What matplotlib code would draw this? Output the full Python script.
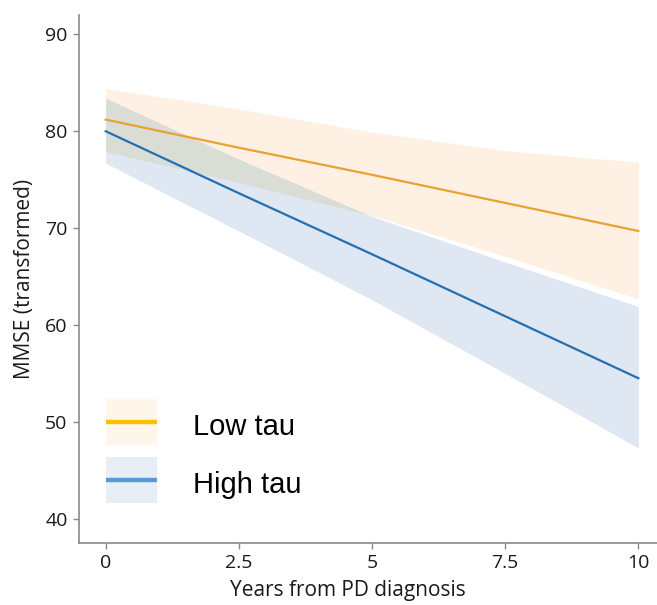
import matplotlib
matplotlib.use("Agg")
import numpy as np
import matplotlib.pyplot as plt
from matplotlib.patches import Rectangle
from matplotlib.lines import Line2D

years = [0, 2.5, 5, 7.5, 10]
low_fit = [81.2, 78.3, 75.5, 72.6, 69.7]
low_upper = [84.4, 82.3, 79.9, 78.0, 76.8]
low_lower = [77.9, 74.7, 71.3, 67.1, 62.7]
high_fit = [80.0, 73.6, 67.3, 60.9, 54.5]
high_upper = [83.4, 77.1, 71.2, 66.5, 61.9]
high_lower = [76.7, 69.7, 62.6, 55.0, 47.3]
labels = ["Low tau", "High tau"]
xticks = [0, 2.5, 5, 7.5, 10]
xticklabels = ["0", "2.5", "5", "7.5", "10"]
yticks = [40, 50, 60, 70, 80, 90]

fig = plt.figure(figsize=(6.57, 6.05), dpi=100)
ax = fig.add_axes([78.7/657, 1-542.7/605, (657-78.7)/657, (542.7-15)/605])

tick_font = "Open Sans"

ax.fill_between(years, low_lower, low_upper, color="#FEF0E2", lw=0)
ax.fill_between(years, high_lower, high_upper, color="#DFE7F2", lw=0)
ov_lo = np.maximum(low_lower, high_lower)
ov_hi = np.minimum(low_upper, high_upper)
ax.fill_between(years, ov_lo, ov_hi, where=ov_hi > ov_lo, interpolate=True,
                color="#D9DDD6", lw=0)
ax.plot(years, low_fit, color="#E9A136", lw=1.6)
ax.plot(years, high_fit, color="#2270B3", lw=1.6)

ax.set_xlim(-0.507, 10.35)
ax.set_ylim(37.52, 92.0)
ax.set_xticks(xticks)
ax.set_xticklabels(xticklabels)
ax.set_yticks(yticks)
for s in ["top", "right"]:
    ax.spines[s].set_visible(False)
for s in ["left", "bottom"]:
    ax.spines[s].set_color("#8a8a8a")
    ax.spines[s].set_linewidth(1.2)
ax.tick_params(colors="#8a8a8a", length=4, width=1, labelcolor="#1a1a1a", labelsize=14, pad=4)
for lab in ax.get_xticklabels() + ax.get_yticklabels():
    lab.set_family(tick_font)
ax.set_xlabel("Years from PD diagnosis", family=tick_font, fontsize=15, color="#1a1a1a", labelpad=6)
ax.xaxis.label.set_x(0.466)
ax.set_ylabel("MMSE (transformed)", family=tick_font, fontsize=15, color="#1a1a1a", labelpad=7)


class BandKey:
    def __init__(self, face, line):
        self.face = face
        self.line = line


class BandKeyHandler:
    def legend_artist(self, legend, orig_handle, fontsize, handlebox):
        x0, yd = handlebox.xdescent, handlebox.ydescent
        w, h = handlebox.width, handlebox.height
        y0 = -yd + 2.7
        rect = Rectangle((-x0, y0), w, h, facecolor=orig_handle.face, edgecolor="none",
                         transform=handlebox.get_transform())
        ln = Line2D([-x0, -x0 + w], [y0 + h / 2, y0 + h / 2], color=orig_handle.line, lw=3.2,
                    solid_capstyle="butt", transform=handlebox.get_transform())
        handlebox.add_artist(rect)
        handlebox.add_artist(ln)
        return rect


h_low = BandKey("#FFF6EA", "#FFC000")
h_high = BandKey("#E8EEF5", "#5B9BD5")
leg = ax.legend([h_low, h_high], labels, handler_map={BandKey: BandKeyHandler()},
                loc="lower left", bbox_to_anchor=(0.0467, 0.068), borderpad=0, borderaxespad=0,
                frameon=False, handlelength=1.75, handleheight=2.05, labelspacing=0.41,
                handletextpad=1.25, prop={"family": "Liberation Sans", "size": 21})

fig.savefig("out.png", dpi=100)
